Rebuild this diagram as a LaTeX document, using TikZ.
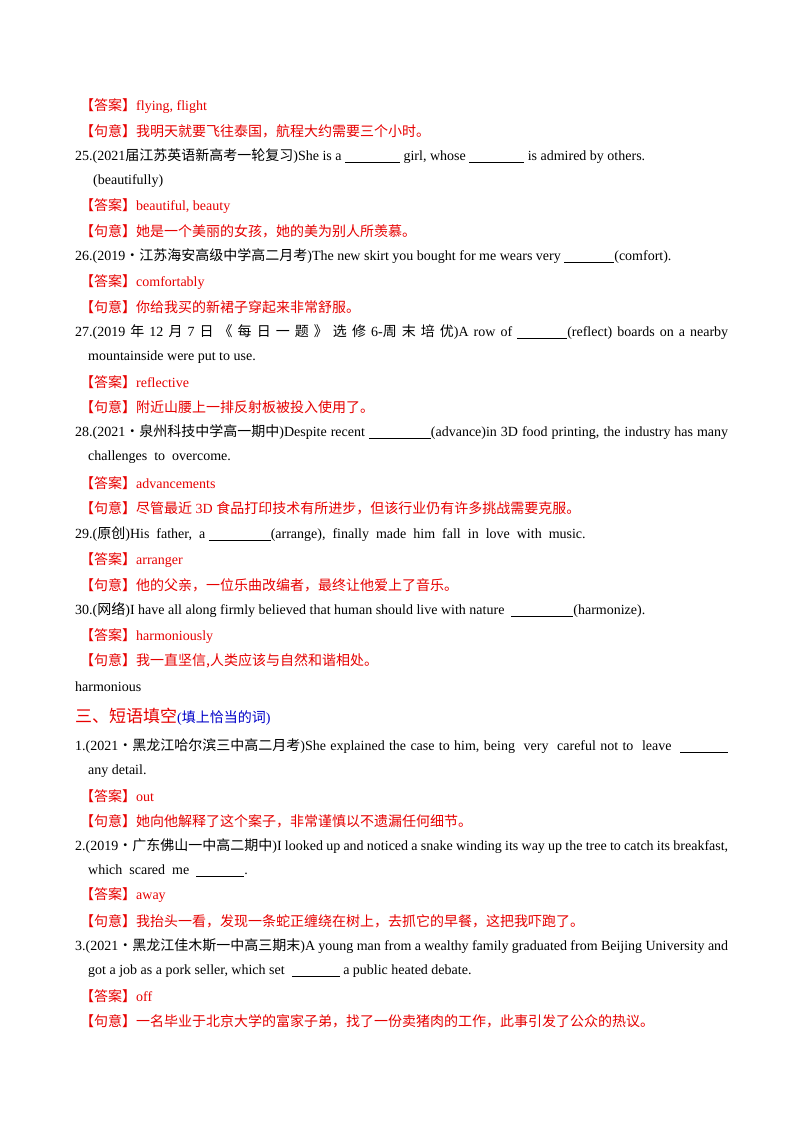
\documentclass[tikz,border=0pt]{standalone}
\usepackage{fontspec}
\setmainfont{Liberation Serif}
\newfontfamily\cjk{Noto Sans CJK SC}
\definecolor{ans}{RGB}{230,0,0}
\definecolor{hint}{RGB}{0,0,200}
\newcommand{\bl}[1]{\rule[-2pt]{#1pt}{0.5pt}}
\begin{document}
\begin{tikzpicture}[x=1pt,y=-1pt,
  t/.style={anchor=west,inner sep=0pt,yshift=-1pt,font=\fontsize{14}{16}\selectfont},
  a/.style={t,text=ans}]
\useasboundingbox (0,0) rectangle (800,1132);
\node[a] (l1) at (80,105) {{\cjk 【答案】}flying, flight};
\node[a] (l2) at (80,130) {\cjk 【句意】我明天就要飞往泰国，航程大约需要三个小时。};
\node[t] (l3) at (75,155) {25.(2021{\cjk 届江苏英语新高考一轮复习})She is a \bl{55} girl, whose \bl{55} is admired by others.};
\node[t] (l4) at (93,180) {(beautifully)};
\node[a] (l5) at (80,205) {{\cjk 【答案】}beautiful, beauty};
\node[a] (l6) at (80,230) {\cjk 【句意】她是一个美丽的女孩，她的美为别人所羡慕。};
\node[t] (l7) at (75,255) {26.(2019{\cjk ·江苏海安高级中学高二月考})The new skirt you bought for me wears very \bl{50}(comfort).};
\node[a] (l8) at (80,281) {{\cjk 【答案】}comfortably};
\node[a] (l9) at (80,306) {\cjk 【句意】你给我买的新裙子穿起来非常舒服。};
\node[t] (l10) at (75,331) {\makebox[653pt][s]{27.(2019 {\cjk 年} 12 {\cjk 月} 7 {\cjk 日} {\cjk 《} {\cjk 每} {\cjk 日} {\cjk 一} {\cjk 题} {\cjk 》} {\cjk 选} {\cjk 修} 6-{\cjk 周} {\cjk 末} {\cjk 培} {\cjk 优})A row of \bl{50}(reflect) boards on a nearby}};
\node[t] (l11) at (88,356) {mountainside were put to use.};
\node[a] (l12) at (80,381) {{\cjk 【答案】}reflective};
\node[a] (l13) at (80,406) {\cjk 【句意】附近山腰上一排反射板被投入使用了。};
\node[t] (l14) at (75,431) {\makebox[653pt][s]{28.(2021{\cjk ·泉州科技中学高一期中})Despite recent \bl{62}(advance)in 3D food printing, the industry has many}};
\node[t] (l15) at (88,456) {challenges\ \ to\ \ overcome.};
\node[a] (l16) at (80,482) {{\cjk 【答案】}advancements};
\node[a] (l17) at (80,507) {{\cjk 【句意】尽管最近} 3D {\cjk 食品打印技术有所进步，但该行业仍有许多挑战需要克服。}};
\node[t] (l18) at (75,533) {29.({\cjk 原创})His\ \ father,\ \ a \bl{62}(arrange),\ \ finally\ \ made\ \ him\ \ fall\ \ in\ \ love\ \ with\ \ music.};
\node[a] (l19) at (80,559) {{\cjk 【答案】}arranger};
\node[a] (l20) at (80,584) {\cjk 【句意】他的父亲，一位乐曲改编者，最终让他爱上了音乐。};
\node[t] (l21) at (75,609) {30.({\cjk 网络})I have all along firmly believed that human should live with nature\ \ \bl{62}(harmonize).};
\node[a] (l22) at (80,635) {{\cjk 【答案】}harmoniously};
\node[a] (l23) at (80,660) {\cjk 【句意】我一直坚信,人类应该与自然和谐相处。};
\node[t] (l24) at (75,686) {harmonious};
\node[t,text=ans] (h) at (75,716) {{\fontsize{17}{19}\selectfont\cjk 三、短语填空}{\color{hint}\fontsize{14}{16}\selectfont(\cjk 填上恰当的词\rmfamily)}};
\node[t] (m1) at (75,745) {\makebox[653pt][s]{1.(2021{\cjk ·黑龙江哈尔滨三中高二月考})She explained the case to him, being\ \ very\ \ careful not to\ \ leave\ \ \bl{48}}};
\node[t] (m2) at (88,770) {any detail.};
\node[a] (m3) at (80,795) {{\cjk 【答案】}out};
\node[a] (m4) at (80,820) {\cjk 【句意】她向他解释了这个案子，非常谨慎以不遗漏任何细节。};
\node[t] (m5) at (75,845) {\makebox[653pt][s]{2.(2019{\cjk ·广东佛山一中高二期中})I looked up and noticed a snake winding its way up the tree to catch its breakfast,}};
\node[t] (m6) at (88,870) {which\ \ scared\ \ me\ \ \bl{48}.};
\node[a] (m7) at (80,894) {{\cjk 【答案】}away};
\node[a] (m8) at (80,920) {\cjk 【句意】我抬头一看，发现一条蛇正缠绕在树上，去抓它的早餐，这把我吓跑了。};
\node[t] (m9) at (75,945) {\makebox[653pt][s]{3.(2021{\cjk ·黑龙江佳木斯一中高三期末})A young man from a wealthy family graduated from Beijing University and}};
\node[t] (m10) at (88,970) {got a job as a pork seller, which set\ \ \bl{48} a public heated debate.};
\node[a] (m11) at (80,995) {{\cjk 【答案】}off};
\node[a] (m12) at (80,1020) {\cjk 【句意】一名毕业于北京大学的富家子弟，找了一份卖猪肉的工作，此事引发了公众的热议。};
\end{tikzpicture}
\end{document}
